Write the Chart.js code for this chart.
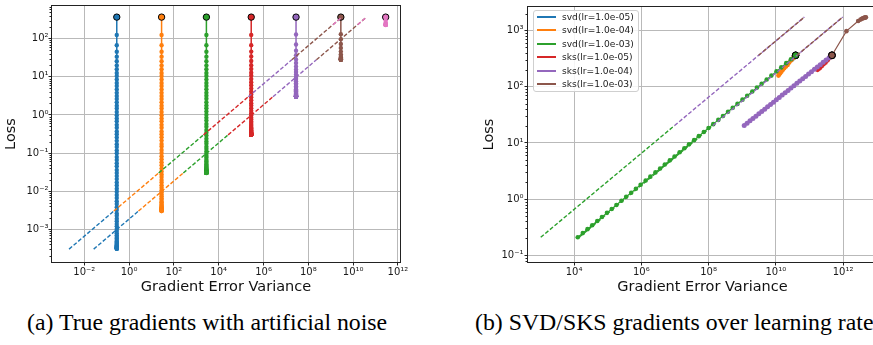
<!DOCTYPE html>
<html><head><meta charset="utf-8">
<script src="https://cdn.jsdelivr.net/npm/chart.js@4.4.1/dist/chart.umd.min.js"></script>
<style>
html,body{margin:0;padding:0;background:#fff;overflow:hidden;width:873px;height:345px;}
#wrap{position:relative;width:873px;height:345px;overflow:hidden;}
canvas{position:absolute;top:0;}
#cL{left:0;} #cR{left:470px;}
.cap{position:absolute;top:310px;font-family:"Liberation Serif","Times New Roman",serif;font-size:23.8px;line-height:24px;color:#000;white-space:nowrap;}
#legend{position:absolute;left:533px;top:10px;width:106px;height:82px;box-sizing:border-box;border:1px solid #cfcfcf;border-radius:3px;background:rgba(255,255,255,0.85);font-family:"DejaVu Sans";font-size:9.1px;color:#1a1a1a;}
.row{position:absolute;left:0;height:12px;line-height:12px;white-space:nowrap;}
.sw{position:absolute;left:3px;top:5px;width:19px;height:2px;}
.tx{position:absolute;left:28px;top:0;}
</style></head>
<body><div id="wrap">
<canvas id="cL" width="412" height="300"></canvas>
<canvas id="cR" width="412" height="300"></canvas>
<div id="legend"></div>
<div class="cap" style="left:27px">(a) True gradients with artificial noise</div>
<div class="cap" style="left:475px">(b) SVD/SKS gradients over learning rates</div>
</div>
<script>
// ---------------- data: left panel (true gradients + artificial noise) ----------------
const leftVariance = [0.282, 28.2, 2820, 2.82e5, 2.82e7, 2.82e9, 2.82e11];
const lossNoise1 = [370,126,67.6,45.7,33.9,25.7,20.0,15.8,12.6,10.5,8.5,6.9,5.75,4.68,3.80,3.16,2.63,2.14,1.74,1.48,1.20,0.98,0.81,0.68,0.55,0.46,0.37,0.31,0.257,0.209,0.170,0.145,0.117,0.098,0.079,0.066,0.054,0.045,0.036,0.030,0.0248,0.0207,0.0169,0.0141,0.0115,0.0096,0.0079,0.0066,0.0054,0.0046,0.0038,0.0032,0.0026,0.00225,0.00188,0.00162,0.00137,0.00119,0.00102,0.0009,0.00079,0.0007,0.00063,0.00057,0.00052,0.00048,0.00045,0.00042,0.0004,0.00038,0.000367,0.000355,0.000345,0.000337,0.00033,0.000325,0.00032,0.000315,0.00031,0.000308,0.000305];
const lossNoise2 = [370,126,67.6,45.7,33.9,25.7,20.0,15.8,12.6,10.5,8.5,6.9,5.75,4.68,3.80,3.16,2.63,2.14,1.74,1.48,1.20,0.98,0.81,0.68,0.55,0.46,0.37,0.31,0.26,0.212,0.173,0.148,0.12,0.101,0.082,0.069,0.057,0.048,0.039,0.033,0.0275,0.0234,0.0196,0.0168,0.0142,0.0123,0.0106,0.0093,0.0081,0.0073,0.0065,0.0059,0.0053,0.0050,0.0046,0.0043,0.0041,0.0039,0.0037,0.0036,0.0035,0.0034,0.0033,0.0033,0.0032,0.0032,0.0031,0.0031,0.0031,0.0030,0.0030];
const lossNoise3 = [370,126,67.6,45.7,33.9,25.7,20.0,15.8,12.6,10.5,8.5,6.9,5.78,4.71,3.83,3.19,2.66,2.17,1.77,1.51,1.23,1.01,0.84,0.71,0.58,0.49,0.40,0.34,0.287,0.239,0.200,0.175,0.147,0.128,0.109,0.096,0.084,0.075,0.066,0.060,0.0545,0.0504,0.0466,0.0438,0.0412,0.0393,0.0376,0.0363,0.0351,0.0343,0.0335,0.0329,0.0323,0.0320,0.0316,0.0313,0.0311,0.0309,0.0307,0.0306,0.0305,0.0304,0.0303,0.0303,0.0302,0.0302,0.0301,0.0301,0.03];
const lossNoise4 = [370,126.3,67.9,46.0,34.2,26.0,20.3,16.1,12.9,10.8,8.8,7.2,6.05,4.98,4.10,3.46,2.93,2.44,2.04,1.78,1.50,1.28,1.11,0.98,0.85,0.76,0.67,0.61,0.557,0.509,0.470,0.445,0.417,0.398,0.379,0.366,0.354,0.345,0.336,0.330,0.3245,0.3204,0.3166,0.3138,0.3112,0.3093,0.3076,0.3063,0.3051,0.3043,0.3035,0.3029,0.3023,0.302,0.3016,0.3013,0.301,0.3008,0.3006,0.3005,0.3004,0.3003];
const lossNoise5 = [370,129,70.6,48.7,36.9,28.7,23.0,18.8,15.6,13.5,11.5,9.9,8.75,7.68,6.80,6.16,5.63,5.14,4.74,4.48,4.20,3.98,3.81,3.68,3.55,3.46,3.37,3.31,3.257,3.209,3.17,3.145,3.117,3.098,3.079,3.066,3.054,3.045,3.036,3.03,3.025,3.02,3.017,3.014,3.011,3.009,3.008,3.006,3.005,3.004];
const lossNoise6 = [370,132,97,73,57,46,39,35,32.5,31,30,29.4,29,28.7,28.5,28.4,28.3,28.2,28.2,28.1];
const lossNoise7 = [370,300,265,248,240,236,234,233,232,231,231,230];
// dashed reference lines: [startVariance, startLoss, endVariance, endLoss] per noise level
const guideUpper = [[2.09e-3,3.0e-4,0.209,3.0e-3],[0.209,3.0e-3,20.9,0.030],[20.9,0.030,2090,0.30],[2090,0.30,2.09e5,3.0],[2.09e5,3.0,1.82e7,28],[1.82e7,28,3.16e9,372],[1.26e9,234,3.16e9,372]];
const guideLower = [[0.0263,3.0e-4,2.63,3.0e-3],[2.63,3.0e-3,263,0.030],[263,0.030,2.63e4,0.30],[2.63e4,0.30,2.63e6,3.0],[2.63e6,3.0,2.29e8,28],[2.29e8,28,3.98e10,372],[1.58e10,234,3.98e10,372]];
const leftXTicks = [1e-2,1,1e2,1e4,1e6,1e8,1e10,1e12];
const leftYTicks = [1e-3,1e-2,1e-1,1,1e1,1e2];

// ---------------- data: right panel (SVD / SKS over learning rates) ----------------
const legendLabels = ['svd(lr=1.0e-05)','svd(lr=1.0e-04)','svd(lr=1.0e-03)','sks(lr=1.0e-05)','sks(lr=1.0e-04)','sks(lr=1.0e-03)'];
const svd5X = [3.89e10,3.63e10,3.39e10,3.16e10,2.95e10];
const svd5Y = [363,347,331,316,302];
const svd4X = [3.89e10,3.31e10,2.88e10,2.51e10,2.24e10,2.00e10,1.78e10,1.62e10,1.48e10,1.35e10,1.26e10,1.20e10];
const svd4Y = [363,324,295,269,245,229,214,200,186,174,166,158];
const svd3X = [3.89e10,2.82e10,2.04e10,1.45e10,1.05e10,7.41e9,5.37e9,3.80e9,2.75e9,2.00e9,1.41e9,1.02e9,7.24e8,5.25e8,3.80e8,2.69e8,1.95e8,1.38e8,1.00e8,7.24e7,5.13e7,3.72e7,2.63e7,1.91e7,1.38e7,9.77e6,7.08e6,5.01e6,3.63e6,2.63e6,1.86e6,1.35e6,9.55e5,6.92e5,5.01e5,3.55e5,2.57e5,1.82e5,1.32e5,9.55e4,6.76e4,4.90e4,3.47e4,2.51e4,1.82e4,1.29e4];
const svd3Y = [363,309,263,221,188,158,135,113,96.6,82.2,69.2,58.9,49.5,42.2,35.9,30.2,25.7,21.6,18.4,15.7,13.2,11.2,9.44,8.04,6.84,5.75,4.90,4.12,3.51,2.99,2.51,2.14,1.80,1.53,1.30,1.10,0.933,0.785,0.668,0.569,0.479,0.407,0.343,0.292,0.248,0.209];
const sks5X = [4.68e11,3.98e11,3.47e11,3.02e11,2.63e11,2.34e11,2.09e11,1.91e11,1.74e11];
const sks5Y = [363,324,295,269,251,234,219,209,200];
const sks4X = [4.68e11,3.83e11,3.13e11,2.56e11,2.10e11,1.72e11,1.41e11,1.15e11,9.42e10,7.71e10,6.31e10,5.16e10,4.23e10,3.46e10,2.83e10,2.32e10,1.90e10,1.55e10,1.27e10,1.04e10,8.51e9,6.97e9,5.70e9,4.67e9,3.82e9,3.13e9,2.56e9,2.09e9,1.71e9,1.40e9,1.15e9];
const sks4Y = [363,330,300,272,247,225,204,185,168,153,139,126,115,104,94.6,86.1,78.2,71.0,64.4,58.6,53.2,48.3,44.0,39.9,36.2,33.0,29.9,27.2,24.7,22.4,20.4];
const sks3X = [4.68e11,1.26e12,2.82e12,3.31e12,3.63e12,3.89e12,4.17e12,4.37e12,4.57e12,4.79e12];
const sks3Y = [363,977,1480,1570,1620,1660,1680,1700,1710,1720];
// visible dashed reference lines per series (null = fully covered by a later series)
const guideA = [null,null,[1.02e3,0.209,9.77e6,20.4],null,[9.77e6,20.4,7.08e10,1740],[3.09e9,363,7.08e10,1740]];
const guideB = [null,null,[1.41e4,0.209,1.35e8,20.4],null,[1.35e8,20.4,9.77e11,1740],[4.27e10,363,9.77e11,1740]];
const rightXTicks = [1e4,1e6,1e8,1e10,1e12];
const rightYTicks = [1e-1,1,1e1,1e2,1e3];

// ---------------- styling ----------------
const C = {blue:'#1f77b4',orange:'#ff7f0e',green:'#2ca02c',red:'#d62728',purple:'#9467bd',brown:'#8c564b',pink:'#e377c2'};
const leftColors = [C.blue,C.orange,C.green,C.red,C.purple,C.brown,C.pink];
const rightColors = [C.blue,C.orange,C.green,C.red,C.purple,C.brown];
const SUP = {'-':'\u207B','0':'\u2070','1':'\u00B9','2':'\u00B2','3':'\u00B3','4':'\u2074','5':'\u2075','6':'\u2076','7':'\u2077','8':'\u2078','9':'\u2079'};
function powLabel(v){const e=Math.round(Math.log10(v));return '10'+String(e).split('').map(c=>SUP[c]).join('');}

function logAxis(min,max,ticks,o){
  return {
    type:'logarithmic', min:min, max:max, bounds:'data',
    afterBuildTicks:s=>{s.ticks=ticks.map(v=>({value:v}));},
    afterFit:s=>{ if(o.w!=null) s.width=o.w; if(o.h!=null) s.height=o.h; },
    grid:{color:'#b9b9b9',lineWidth:1,tickColor:'#222',tickLength:3.5,drawTicks:true},
    border:{display:false},
    ticks:{autoSkip:false,maxRotation:0,minRotation:0,padding:o.pad,color:'#1a1a1a',
      font:{family:'DejaVu Sans',size:10},callback:v=>powLabel(v)},
    title:{display:true,text:o.title,color:'#111',font:{family:'DejaVu Sans',size:14.5,lineHeight:1.2},padding:o.tpad}
  };
}
const framePlugin={id:'frame',afterDatasetsDraw(chart){
  const a=chart.chartArea,ctx=chart.ctx;ctx.save();ctx.strokeStyle='#222';ctx.lineWidth=1;
  ctx.strokeRect(Math.round(a.left)-0.5,Math.round(a.top)-0.5,Math.round(a.right-a.left)+1,Math.round(a.bottom-a.top)+1);
  ctx.restore();}};
const minorPlugin={id:'minor',afterDraw(chart){
  const ys=chart.scales.y,a=chart.chartArea,ctx=chart.ctx;ctx.save();ctx.strokeStyle='#222';ctx.lineWidth=1;ctx.beginPath();
  const lo=Math.floor(Math.log10(ys.min)),hi=Math.ceil(Math.log10(ys.max));
  for(let k=lo;k<=hi;k++)for(let m=2;m<=9;m++){const v=m*Math.pow(10,k);if(v<ys.min||v>ys.max)continue;
    const y=Math.round(ys.getPixelForValue(v))+0.5;ctx.moveTo(Math.round(a.left)-2.5,y);ctx.lineTo(Math.round(a.left),y);}
  ctx.stroke();ctx.restore();}};

function guide(g,c,order){return {data:[{x:g[0],y:g[1]},{x:g[2],y:g[3]}],borderColor:c,backgroundColor:c,borderWidth:1.4,borderDash:[4,2],pointRadius:0,fill:false,order:order};}
function series(pts,c,order,r,lw){return {data:pts,borderColor:c,backgroundColor:c,borderWidth:lw,fill:false,order:order,
  pointBackgroundColor:c,pointRadius:ctx=>ctx.dataIndex===0?r+1:r,
  pointBorderWidth:ctx=>ctx.dataIndex===0?1:0,pointBorderColor:ctx=>ctx.dataIndex===0?'#000':c};}

// ---------------- left chart ----------------
const leftLosses=[lossNoise1,lossNoise2,lossNoise3,lossNoise4,lossNoise5,lossNoise6,lossNoise7];
const dsL=[];
leftVariance.forEach((vx,i)=>{
  const c=leftColors[i];
  dsL.push(guide(guideUpper[i],c,-(i*10+1)));
  dsL.push(guide(guideLower[i],c,-(i*10+2)));
  dsL.push(series(leftLosses[i].map(y=>({x:vx,y:y})),c,-(i*10+3),2.2,1.5));
});
const common={responsive:false,animation:false,devicePixelRatio:1,events:[],
  plugins:{legend:{display:false},tooltip:{enabled:false}}};
new Chart(document.getElementById('cL'),{type:'line',data:{datasets:dsL},plugins:[framePlugin,minorPlugin],
  options:Object.assign({},common,{layout:{padding:{left:0,right:12,top:5,bottom:0}},
    scales:{
      x:logAxis(3.63e-4,1.23e12,leftXTicks,{h:38,pad:1,title:'Gradient Error Variance',tpad:{top:0,bottom:3.8}}),
      y:logAxis(1.38e-4,724,leftYTicks,{w:52,pad:0,title:'Loss',tpad:{top:3,bottom:0}})
    }})});

// ---------------- right chart ----------------
const rightXs=[svd5X,svd4X,svd3X,sks5X,sks4X,sks3X];
const rightYs=[svd5Y,svd4Y,svd3Y,sks5Y,sks4Y,sks3Y];
const dsR=[];
rightXs.forEach((xs,i)=>{
  const c=rightColors[i];
  if(guideA[i]) dsR.push(guide(guideA[i],c,-(i*10+1)));
  if(guideB[i]) dsR.push(guide(guideB[i],c,-(i*10+2)));
  dsR.push(series(xs.map((x,j)=>({x:x,y:rightYs[i][j]})),c,-(i*10+3),i===4?2.5:2.3,1.2));
});
new Chart(document.getElementById('cR'),{type:'line',data:{datasets:dsR},plugins:[framePlugin,minorPlugin],
  options:Object.assign({},common,{layout:{padding:{left:0,right:5,top:5,bottom:0}},
    scales:{
      x:logAxis(427,1.023e13,rightXTicks,{h:38,pad:1,title:'Gradient Error Variance',tpad:{top:0,bottom:3.8}}),
      y:logAxis(0.0759,2630,rightYTicks,{w:58,pad:1,title:'Loss',tpad:{top:10.3,bottom:0}})
    }})});

// ---------------- legend (built from the same arrays) ----------------
const lg=document.getElementById('legend');
legendLabels.forEach((t,i)=>{
  const row=document.createElement('div');row.className='row';row.style.top=(i*13.45)+'px';
  const sw=document.createElement('span');sw.className='sw';sw.style.background=rightColors[i];
  const tx=document.createElement('span');tx.className='tx';tx.textContent=t;
  row.appendChild(sw);row.appendChild(tx);lg.appendChild(row);
});
</script>
</body></html>
